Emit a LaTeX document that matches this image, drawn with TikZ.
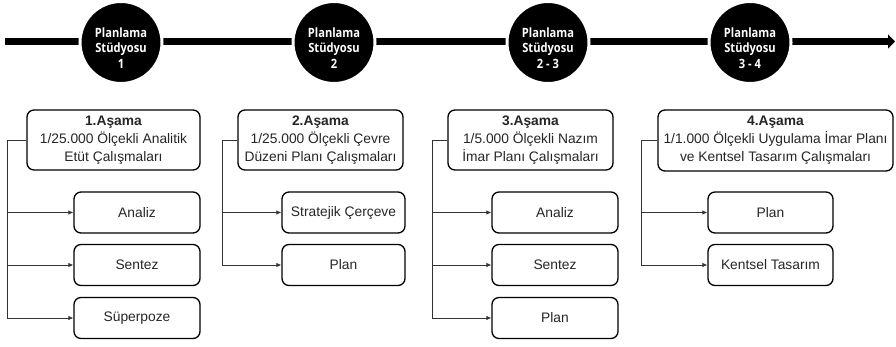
\documentclass[tikz,border=0pt]{standalone}
\usepackage{fontspec}
\setmainfont{Liberation Sans}
\newfontfamily\circfont{Open Sans}[FakeStretch=0.87]
\usetikzlibrary{arrows.meta}
\begin{document}
\begin{tikzpicture}[x=1pt,y=-1pt,
  tbox/.style={draw=black, line width=1.3pt, rounded corners=7pt, fill=white, align=center,
    font=\fontsize{13.8}{18}\selectfont, text=black!85, inner sep=0pt},
  sbox/.style={draw=black, line width=1.3pt, rounded corners=7pt, fill=white, minimum height=41pt,
    font=\fontsize{13.8}{16}\selectfont, text=black!85, inner sep=0pt},
  circ/.style={circle, fill=black, draw=white, line width=3pt, minimum size=82pt, inner sep=0pt},
  ctext/.style={align=center, text=white, font=\circfont\bfseries\fontsize{12.8}{15.5}\selectfont, inner sep=0pt},
  conn/.style={draw=black!80, line width=0.8pt},
  arr/.style={-{Latex[length=5pt,width=4.5pt]}},
]
\useasboundingbox (0,0) rectangle (896,347);

% main timeline
\coordinate (ls) at (5,41.5);
\coordinate (le) at (895,41.5);
\draw[line width=7pt, -{Triangle[length=7pt,width=14pt]}] (ls) -- (le);

% studio circles
\node[circ] (c1) at (121,42.5) {};
\node[circ] (c2) at (334,42.5) {};
\node[circ] (c3) at (548,42.5) {};
\node[circ] (c4) at (750,42.5) {};
\node[ctext] (c1t) at ([yshift=-5.5pt]c1.center) {Planlama\\Stüdyosu\\1};
\node[ctext] (c2t) at ([yshift=-5.5pt]c2.center) {Planlama\\Stüdyosu\\2};
\node[ctext] (c3t) at ([yshift=-5.5pt]c3.center) {Planlama\\Stüdyosu\\2 - 3};
\node[ctext] (c4t) at ([yshift=-5.5pt]c4.center) {Planlama\\Stüdyosu\\3 - 4};

% stage title boxes
\node[tbox, minimum width=173pt, minimum height=60pt] (t1) at (113.5,140)
  {\textbf{1.Aşama}\\1/25.000 Ölçekli Analitik\\Etüt Çalışmaları};
\node[tbox, minimum width=165pt, minimum height=60pt] (t2) at (320.5,140)
  {\textbf{2.Aşama}\\1/25.000 Ölçekli Çevre\\Düzeni Planı Çalışmaları};
\node[tbox, minimum width=165pt, minimum height=60pt] (t3) at (530.5,140)
  {\textbf{3.Aşama}\\1/5.000 Ölçekli Nazım\\İmar Planı Çalışmaları};
\node[tbox, minimum width=235pt, minimum height=61pt] (t4) at (775.5,140.5)
  {\textbf{4.Aşama}\\1/1.000 Ölçekli Uygulama İmar Planı\\ve Kentsel Tasarım Çalışmaları};

% sub boxes
\node[sbox, minimum width=126pt] (s11) at (137,212.5) {Analiz};
\node[sbox, minimum width=126pt] (s12) at (137,265) {Sentez};
\node[sbox, minimum width=126pt] (s13) at (137,318) {Süperpoze};

\node[sbox, minimum width=123pt] (s21) at (343.5,212.5) {Stratejik Çerçeve};
\node[sbox, minimum width=123pt] (s22) at (343.5,265) {Plan};

\node[sbox, minimum width=126pt] (s31) at (555,212.5) {Analiz};
\node[sbox, minimum width=126pt] (s32) at (555,265) {Sentez};
\node[sbox, minimum width=126pt] (s33) at (555,318) {Plan};

\node[sbox, minimum width=125pt] (s41) at (770.5,212.5) {Plan};
\node[sbox, minimum width=125pt] (s42) at (770.5,265) {Kentsel Tasarım};

% connector spines
\coordinate (j1) at (7,0);
\coordinate (j2) at (222,0);
\coordinate (j3) at (432,0);
\coordinate (j4) at (641,0);

\foreach \s in {s11,s12,s13}
  \draw[conn, arr] (t1.west) -- (t1.west -| j1) |- (\s.west);
\foreach \s in {s21,s22}
  \draw[conn, arr] (t2.west) -- (t2.west -| j2) |- (\s.west);
\foreach \s in {s31,s32,s33}
  \draw[conn, arr] (t3.west) -- (t3.west -| j3) |- (\s.west);
\foreach \s in {s41,s42}
  \draw[conn, arr] (t4.west) -- (t4.west -| j4) |- (\s.west);
\end{tikzpicture}
\end{document}
